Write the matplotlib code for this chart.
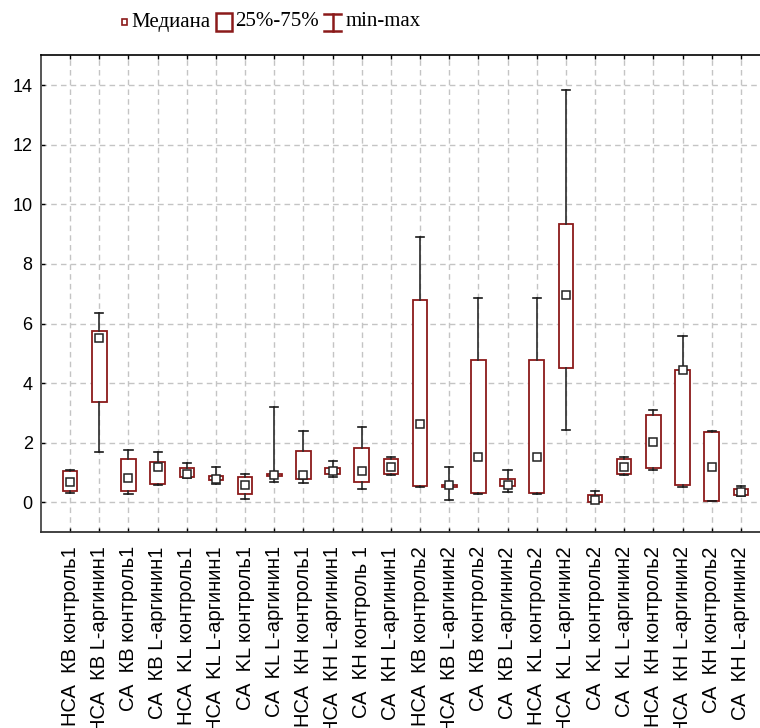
#!/usr/bin/env python3
"""Box chart (median, 25%-75%, min-max) for 24 groups."""

import matplotlib

matplotlib.use("Agg")
import matplotlib.pyplot as plt
from matplotlib.lines import Line2D
from matplotlib.patches import Rectangle

labels = [
    "НСА  КВ контроль1", "НСА  КВ L-аргинин1", "СА  КВ контроль1", "СА  КВ L-аргинин1",
    "НСА  KL контроль1", "НСА  KL L-аргинин1", "СА  KL контроль1", "СА  KL L-аргинин1",
    "НСА  КН контроль1", "НСА  КН L-аргинин1", "СА  КН контроль 1", "СА  КН L-аргинин1",
    "НСА  КВ контроль2", "НСА  КВ L-аргинин2", "СА  КВ контроль2", "СА  КВ L-аргинин2",
    "НСА  KL контроль2", "НСА  KL L-аргинин2", "СА  KL контроль2", "СА  KL L-аргинин2",
    "НСА  КН контроль2", "НСА  КН L-аргинин2", "СА  КН контроль2", "СА  КН L-аргинин2",
]
mins = [0.33, 1.69, 0.30, 0.58, 0.83, 0.63, 0.13, 0.70, 0.67, 0.85, 0.44, 0.92,
        0.53, 0.10, 0.27, 0.35, 0.27, 2.43, 0.00, 0.92, 1.09, 0.53, 0.05, 0.22]
q1 = [0.37, 3.36, 0.38, 0.61, 0.85, 0.77, 0.28, 0.88, 0.78, 0.95, 0.69, 0.94,
      0.56, 0.52, 0.31, 0.56, 0.31, 4.50, 0.02, 0.94, 1.17, 0.57, 0.05, 0.26]
medians = [0.68, 5.53, 0.82, 1.18, 0.95, 0.80, 0.58, 0.93, 0.93, 1.06, 1.06, 1.18,
           2.62, 0.57, 1.53, 0.58, 1.53, 6.97, 0.09, 1.18, 2.02, 4.44, 1.18, 0.35]
q3 = [1.06, 5.74, 1.47, 1.37, 1.17, 0.88, 0.87, 0.96, 1.73, 1.16, 1.83, 1.45,
      6.80, 0.58, 4.77, 0.78, 4.77, 9.35, 0.25, 1.45, 2.93, 4.46, 2.35, 0.45]
maxs = [1.10, 6.34, 1.77, 1.71, 1.34, 1.18, 0.94, 3.21, 2.40, 1.38, 2.52, 1.52,
        8.89, 1.20, 6.86, 1.10, 6.86, 13.85, 0.37, 1.52, 3.10, 5.60, 2.41, 0.54]
yticks = [0, 2, 4, 6, 8, 10, 12, 14]
legend_texts = ["Медиана", "25%-75%", "min-max"]

BOX_RED = "#8b1a1a"
W, H = 760, 728

fig = plt.figure(figsize=(W / 100, H / 100), dpi=100)
# the plot area runs past the right edge of the picture, as in the original
ax = fig.add_axes([41 / W, (H - 532.3) / H, 729 / W, 477 / H])

positions = list(range(1, len(labels) + 1))
stats = [
    {"whislo": lo, "q1": a, "med": m, "q3": b, "whishi": hi}
    for lo, a, m, b, hi in zip(mins, q1, medians, q3, maxs)
]
ax.bxp(
    stats,
    positions=positions,
    widths=0.5,
    capwidths=0.28,
    showfliers=False,
    patch_artist=True,
    boxprops=dict(facecolor="white", edgecolor=BOX_RED, linewidth=1.3),
    whiskerprops=dict(color="#2a2a2a", linewidth=1.2),
    capprops=dict(color="#1a1a1a", linewidth=1.2),
    medianprops=dict(linewidth=0),
    zorder=3,
)
ax.plot(positions, medians, linestyle="none", marker="s", markersize=6,
        markerfacecolor="white", markeredgecolor="#222222", markeredgewidth=1.1,
        zorder=4)

ax.set_xlim(0, 25)
ax.set_ylim(-1, 15)
ax.set_yticks(yticks)
ax.set_xticks(positions)
ax.set_xticklabels(labels, rotation=90, family=["Liberation Sans", "DejaVu Sans"],
                   fontsize=14.5)
for t in ax.get_yticklabels():
    t.set_family(["Liberation Sans", "DejaVu Sans"])
    t.set_fontsize(13)

ax.grid(True, color="#c4c4c4", linestyle=(0, (4, 3)), linewidth=1.0, zorder=0)
ax.set_axisbelow(True)
ax.tick_params(axis="x", direction="in", top=True, length=3, width=1, pad=10)
ax.tick_params(axis="y", direction="in", length=3, width=1, pad=6)
ax.spines["left"].set_color("#555555")
ax.spines["left"].set_linewidth(1.4)
ax.spines["bottom"].set_color("#333333")
ax.spines["bottom"].set_linewidth(1.3)
ax.spines["top"].set_linewidth(1.2)
ax.spines["right"].set_visible(False)


# legend across the top, drawn by hand and centred like the original
def fx(x):
    return x / W


def fy(y):
    return (H - y) / H


serif = ["Liberation Serif", "DejaVu Serif"]
renderer = fig.canvas.get_renderer()
texts = [fig.text(0, fy(22), s, family=serif, fontsize=15, va="center")
         for s in legend_texts]
widths = [t.get_window_extent(renderer).width for t in texts]
glyph_w = [5, 16, 17]
gap_before, gap_after = 4, 5
total = sum(glyph_w) + sum(widths) + 3 * gap_before + 2 * gap_after
x = 271.5 - total / 2
yc = 22

for i, (t, tw) in enumerate(zip(texts, widths)):
    gw = glyph_w[i]
    if i == 0:
        fig.add_artist(Rectangle((fx(x), fy(yc + 3)), gw / W, 6 / H,
                                 transform=fig.transFigure, facecolor="white",
                                 edgecolor=BOX_RED, linewidth=1.2))
    elif i == 1:
        fig.add_artist(Rectangle((fx(x), fy(yc + 8.5)), gw / W, 17 / H,
                                 transform=fig.transFigure, facecolor="white",
                                 edgecolor=BOX_RED, linewidth=1.8))
    else:
        xm = x + gw / 2
        for xs, ys in (([xm, xm], [yc - 8.5, yc + 8.5]), ([x, x + gw], [yc - 8.5, yc - 8.5]),
                       ([x, x + gw], [yc + 8.5, yc + 8.5])):
            fig.add_artist(Line2D([fx(v) for v in xs], [fy(v) for v in ys],
                                  transform=fig.transFigure, color=BOX_RED,
                                  linewidth=1.8))
    x += gw + gap_before
    t.set_x(fx(x))
    x += tw + gap_after

fig.savefig("out.png", dpi=100)
